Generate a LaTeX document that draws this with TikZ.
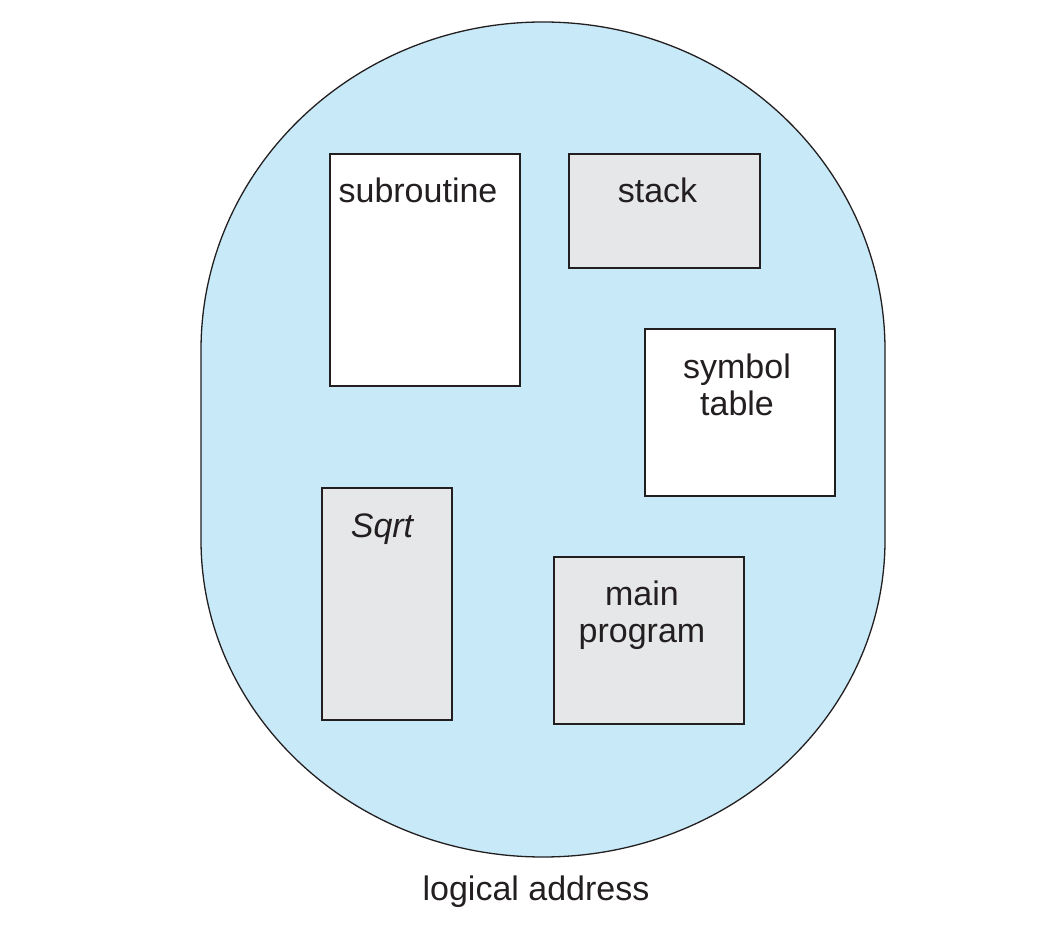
\documentclass[tikz,border=0pt]{standalone}
\usepackage{fontspec}
\setmainfont{Liberation Sans}
\usetikzlibrary{positioning}

\definecolor{spaceblue}{HTML}{C8E9F8}
\definecolor{seggray}{HTML}{E6E7E8}
\definecolor{inkline}{HTML}{231F20}

\begin{document}
\begin{tikzpicture}[x=1pt,y=1pt,
    every node/.style={font=\fontsize{34}{37}\selectfont, text=inkline},
    seg/.style={draw=inkline, line width=1.8pt, rectangle, inner sep=0pt},
    segwhite/.style={seg, fill=white},
    seggrey/.style={seg, fill=seggray},
    seglabel/.style={inner sep=0pt, align=center}]

\useasboundingbox (0,0) rectangle (1052,937);

% ==== 逻辑地址空间（椭圆形外框） ====
\draw[draw=inkline, line width=1.3pt, fill=spaceblue]
  (201,397) -- (201,587)
  arc[start angle=180, end angle=0, x radius=342, y radius=328]
  -- (885,397)
  arc[start angle=0, end angle=-180, x radius=342, y radius=317]
  -- cycle;

% ==== 各个段 ====
\node[segwhite, minimum width=190, minimum height=232] (subr) at (425,667) {};
\node[seggrey,  minimum width=191, minimum height=114] (stk)  at (664.5,726) {};
\node[segwhite, minimum width=190, minimum height=167] (symt) at (740,524.5) {};
\node[seggrey,  minimum width=130, minimum height=232] (sqrt) at (387,333) {};
\node[seggrey,  minimum width=190, minimum height=167] (mainp) at (649,296.5) {};

% 段名（贴着上边往下放）
\node[seglabel, anchor=base] (subrl) at ([xshift=-7pt, yshift=-49pt]subr.north) {subroutine};
\node[seglabel, anchor=base] (stkl)  at ([xshift=-7pt, yshift=-49pt]stk.north) {stack};
\node[seglabel, anchor=north] (symtl) at ([xshift=-3pt, yshift=-26pt]symt.north) {symbol\\table};
\node[seglabel, anchor=base] (sqrtl) at ([xshift=-5pt, yshift=-50pt]sqrt.north) {\itshape Sqrt};
\node[seglabel, anchor=north] (mainpl) at ([xshift=-7pt, yshift=-25pt]mainp.north) {main\\program};

% ==== 底部标题 ====
\node[anchor=base] (title) at (536,36) {logical address};

\end{tikzpicture}
\end{document}
